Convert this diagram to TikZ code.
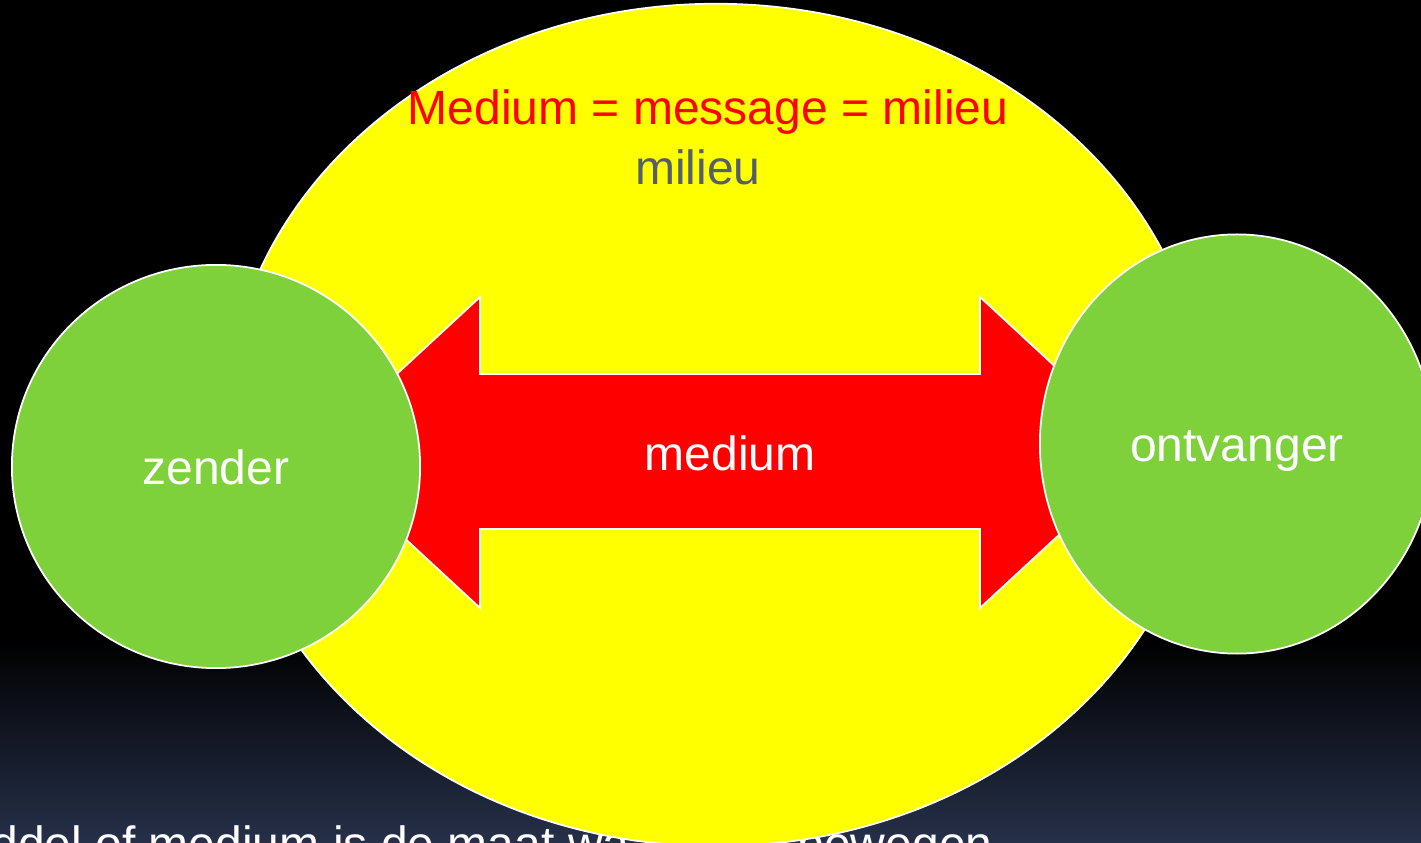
\documentclass[tikz,border=0pt]{standalone}
\usepackage{fontspec}
\setmainfont{Liberation Sans}
\usetikzlibrary{shapes.geometric}

\def\slidew{1421}
\def\slideh{843}
\definecolor{mmyellow}{HTML}{FFFF00}
\definecolor{mmred}{HTML}{FF0000}
\definecolor{mmgreen}{HTML}{7FD13B}
\definecolor{mmgray}{HTML}{545E6D}
\definecolor{mmnavy}{HTML}{263049}
\newcommand{\slidetext}{\fontsize{13.66}{16.4}\selectfont}

\begin{document}
\begin{tikzpicture}[
  x=0.01cm, y=-0.01cm,
  font=\slidetext,
  rand/.style={draw=white, line width=0.5pt},
  bol/.style={ellipse, fill=mmgreen, rand, inner sep=0pt, text=white}
]

  \useasboundingbox (0,0) rectangle (\slidew,\slideh);
  \clip (0,0) rectangle (\slidew,\slideh);

  % --------------------------------------------------------------------
  % Slide background
  % --------------------------------------------------------------------

  \fill[black] (0,0) rectangle (\slidew,\slideh);
  \shade[top color=black, bottom color=mmnavy]
    (0,640) rectangle (\slidew,\slideh);

  \node[anchor=base west, text=white, inner sep=0pt] (bodytext) at (-60,860)
    {Middel of medium is de maat waarin we bewegen};

  % --------------------------------------------------------------------
  % Milieu
  % --------------------------------------------------------------------

  \node[
    ellipse,
    fill=mmyellow,
    rand,
    inner sep=0pt,
    minimum width=9.8cm,
    minimum height=8.42cm
  ] (milieuveld) at (716,425) {};

  \node[anchor=base, text=mmred, inner sep=0pt] (stelling) at (708,125)
    {Medium = message = milieu};
  \node[anchor=base, text=mmgray, inner sep=0pt] (milieu) at (698,185)
    {milieu};

  % --------------------------------------------------------------------
  % Medium (double arrow)
  % --------------------------------------------------------------------

  \filldraw[
    fill=mmred,
    rand
  ]
    (312,452.5)
    -- (480,297) -- (480,374) -- (980,374) -- (980,297)
    -- (1148,452.5)
    -- (980,608) -- (980,529) -- (480,529) -- (480,608)
    -- cycle;

  \node[anchor=base, text=white, inner sep=0pt] (medium) at (730,471)
    {medium};

  % --------------------------------------------------------------------
  % Zender and ontvanger
  % --------------------------------------------------------------------

  \node[bol, minimum width=4.08cm, minimum height=4.03cm] (zender)
    at (216,466.5) {};
  \node[anchor=base, text=white, inner sep=0pt] (zenderlabel) at (216,485)
    {zender};

  \node[bol, minimum width=3.94cm, minimum height=4.19cm] (ontvanger)
    at (1237,444) {};
  \node[anchor=base, text=white, inner sep=0pt] (ontvangerlabel) at (1237,462)
    {ontvanger};

\end{tikzpicture}
\end{document}
